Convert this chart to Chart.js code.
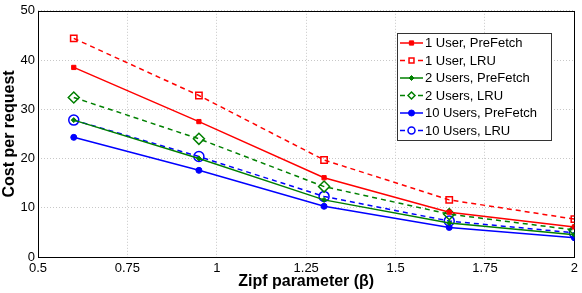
<!DOCTYPE html>
<html>
<head>
<meta charset="utf-8">
<script src="https://cdn.jsdelivr.net/npm/chart.js@4"></script>
<style>
  body { margin: 0; background: #fff; }
  #wrap { width: 582px; height: 293px; }
</style>
</head>
<body>
<div id="wrap"><canvas id="theGraph" width="582" height="293"></canvas></div>
<script>
// data
var zipf = [0.6, 0.95, 1.3, 1.65, 2];
var xTicks = [0.5, 0.75, 1, 1.25, 1.5, 1.75, 2];
var yTicks = [0, 10, 20, 30, 40, 50];

var user1PreFetch  = [38.5, 27.5, 16.1, 9.1, 6.1];
var user1LRU       = [44.4, 32.8, 19.7, 11.6, 7.7];
var users2PreFetch = [27.8, 20.0, 11.6, 6.9, 4.5];
var users2LRU      = [32.4, 24.0, 14.3, 8.7, 5.5];
var users10PreFetch = [24.3, 17.6, 10.3, 6.0, 3.9];
var users10LRU     = [27.8, 20.4, 12.3, 7.3, 4.9];

function pts(vals) {
  return vals.map(function (v, i) { return { x: zipf[i], y: v }; });
}

function series(label, vals, color, dashed, style, radius, filled) {
  return {
    label: label,
    data: pts(vals),
    borderColor: color,
    backgroundColor: filled ? color : '#fff',
    pointBorderColor: color,
    pointBackgroundColor: filled ? color : 'rgba(0,0,0,0)',
    borderWidth: 1.5,
    borderDash: dashed ? [5, 4] : [],
    pointStyle: style,
    pointRadius: radius,
    pointBorderWidth: filled ? 1 : 1.5,
    tension: 0,
    fill: false
  };
}

// legend box drawn inside the plot, like the MATLAB one
var boxLegend = {
  id: 'boxLegend',
  afterDraw: function (chart) {
    var ctx = chart.ctx;
    var x0 = 397, y0 = 33, w = 154, h = 107, step = 17.5;
    ctx.save();
    ctx.fillStyle = '#fff';
    ctx.fillRect(x0, y0, w, h);
    ctx.strokeStyle = '#333';
    ctx.lineWidth = 1;
    ctx.setLineDash([]);
    ctx.strokeRect(x0 + 0.5, y0 + 0.5, w, h);
    ctx.font = '13px "Liberation Sans", Arial, sans-serif';
    ctx.textBaseline = 'middle';
    chart.data.datasets.forEach(function (ds, i) {
      var y = y0 + 10 + i * step;
      ctx.strokeStyle = ds.borderColor;
      ctx.lineWidth = ds.borderWidth;
      ctx.setLineDash(ds.borderDash);
      ctx.beginPath();
      ctx.moveTo(x0 + 3, y);
      ctx.lineTo(x0 + 26, y);
      ctx.stroke();
      ctx.setLineDash([]);
      // white gap under open markers
      ctx.fillStyle = ds.pointBackgroundColor === 'rgba(0,0,0,0)' ? '#fff' : ds.pointBackgroundColor;
      ctx.strokeStyle = ds.pointBorderColor;
      ctx.lineWidth = ds.pointBorderWidth;
      Chart.helpers.drawPoint(ctx, {
        pointStyle: ds.pointStyle,
        radius: Math.min(ds.pointRadius, 3.5),
        borderWidth: ds.pointBorderWidth
      }, x0 + 14.5, y);
      ctx.fillStyle = '#000';
      ctx.fillText(ds.label, x0 + 28, y + 0.5);
    });
    ctx.restore();
  }
};

// black frame round the plot area
var frame = {
  id: 'frame',
  beforeDatasetsDraw: function (chart) {
    var a = chart.chartArea, ctx = chart.ctx;
    ctx.save();
    ctx.strokeStyle = '#000';
    ctx.lineWidth = 1;
    ctx.strokeRect(Math.round(a.left) + 0.5, Math.round(a.top) + 0.5,
      Math.round(a.right - a.left), Math.round(a.bottom - a.top));
    ctx.restore();
  }
};

var ctx = document.getElementById('theGraph').getContext('2d');
var chart = new Chart(ctx, {
  type: 'line',
  data: {
    datasets: [
      series('1 User, PreFetch', user1PreFetch, '#ff0000', false, 'rect', 3, true),
      series('1 User, LRU', user1LRU, '#ff0000', true, 'rect', 4.5, false),
      series('2 Users, PreFetch', users2PreFetch, '#008000', false, 'rectRot', 2.5, true),
      series('2 Users, LRU', users2LRU, '#008000', true, 'rectRot', 5.5, false),
      series('10 Users, PreFetch', users10PreFetch, '#0000ff', false, 'circle', 3, true),
      series('10 Users, LRU', users10LRU, '#0000ff', true, 'circle', 5, false)
    ]
  },
  options: {
    responsive: false,
    animation: false,
    layout: { padding: { left: 0, right: 6, top: 7, bottom: 2 } },
    plugins: { legend: { display: false }, tooltip: { enabled: false } },
    scales: {
      x: {
        type: 'linear',
        min: 0.5,
        max: 2,
        afterBuildTicks: function (s) { s.ticks = xTicks.map(function (v) { return { value: v }; }); },
        afterFit: function (s) { s.height = 34; },
        grid: { color: '#c8c8c8', drawTicks: false },
        border: { display: false, dash: [1, 2] },
        ticks: {
          color: '#000',
          padding: 4,
          maxRotation: 0,
          font: { family: '"Liberation Sans", Arial, sans-serif', size: 13 },
          callback: function (v) { return String(v); }
        },
        title: {
          display: true,
          text: 'Zipf parameter (β)',
          color: '#000',
          padding: { top: 0, bottom: 0 },
          font: { family: '"Liberation Sans", Arial, sans-serif', size: 16, weight: 'bold' }
        }
      },
      y: {
        min: 0,
        max: 50,
        afterBuildTicks: function (s) { s.ticks = yTicks.map(function (v) { return { value: v }; }); },
        afterFit: function (s) { s.width = 38; },
        grid: { color: '#c8c8c8', drawTicks: false },
        border: { display: false, dash: [1, 2] },
        ticks: {
          color: '#000',
          padding: 3,
          font: { family: '"Liberation Sans", Arial, sans-serif', size: 13 }
        },
        title: {
          display: true,
          text: 'Cost per request',
          color: '#000',
          padding: { top: 0, bottom: 0 },
          font: { family: '"Liberation Sans", Arial, sans-serif', size: 16, weight: 'bold' }
        }
      }
    }
  },
  plugins: [frame, boxLegend]
});
</script>
</body>
</html>
